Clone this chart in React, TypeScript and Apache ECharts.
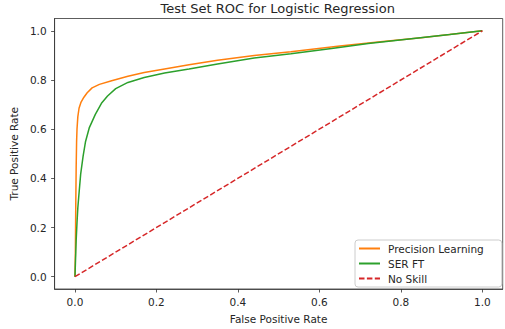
import React, { useEffect, useRef } from "react";
import * as echarts from "echarts";

const title = "Test Set ROC for Logistic Regression";
const xName = "False Positive Rate";
const yName = "True Positive Rate";
const tickValues = [0, 0.2, 0.4, 0.6, 0.8, 1.0];

const precisionFpr = [0, 0.001, 0.002, 0.003, 0.004, 0.005, 0.007, 0.01, 0.015, 0.022, 0.03, 0.042, 0.06, 0.09, 0.13, 0.17, 0.22, 0.28, 0.35, 0.44, 0.53, 0.65, 0.75, 0.85, 0.93, 1];
const precisionTpr = [0, 0.1, 0.3, 0.45, 0.55, 0.6, 0.65, 0.685, 0.71, 0.73, 0.748, 0.768, 0.782, 0.797, 0.815, 0.83, 0.845, 0.862, 0.88, 0.9, 0.915, 0.938, 0.955, 0.972, 0.987, 1];

const serFpr = [0, 0.002, 0.003, 0.005, 0.007, 0.009, 0.014, 0.02, 0.026, 0.035, 0.05, 0.065, 0.08, 0.1, 0.13, 0.17, 0.22, 0.28, 0.35, 0.44, 0.53, 0.63, 0.72, 0.82, 0.92, 1];
const serTpr = [0, 0.1, 0.15, 0.22, 0.28, 0.32, 0.417, 0.49, 0.55, 0.605, 0.66, 0.705, 0.735, 0.765, 0.79, 0.81, 0.828, 0.845, 0.865, 0.889, 0.907, 0.928, 0.948, 0.967, 0.985, 1];

const noSkillFpr = [0, 1];
const noSkillTpr = [0, 1];

const zip = (a: number[], b: number[]) => a.map((v, i) => [v, b[i]]);

const FONT = "DejaVu Sans";
const TXT = "#262626";

export default function App() {
  const ref = useRef<HTMLDivElement>(null);
  useEffect(() => {
    if (!ref.current) return;
    const chart = echarts.init(ref.current, undefined, { renderer: "svg" });
    const axisCommon = {
      type: "value" as const,
      min: -0.05,
      max: 1.05,
      splitLine: { show: false },
      axisLine: { show: true, onZero: false, lineStyle: { color: "#333", width: 0.8 } },
      axisTick: { show: true, length: 3.5, customValues: tickValues, lineStyle: { color: "#333", width: 0.8 } },
      nameTextStyle: { fontFamily: FONT, fontSize: 10.5, color: TXT },
    };
    chart.setOption({
      animation: false,
      backgroundColor: "#fff",
      title: {
        text: title,
        left: 277.7,
        textAlign: "center",
        top: 1.5,
        padding: 0,
        textStyle: { fontFamily: FONT, fontSize: 13, fontWeight: "normal", color: TXT },
      },
      grid: {
        left: 52.7,
        right: 2.3,
        top: 18.5,
        bottom: 35,
        show: true,
        borderColor: "#333",
        borderWidth: 0.8,
        backgroundColor: "transparent",
      },
      legend: {
        left: 355,
        top: 240,
        orient: "vertical",
        itemWidth: 21,
        itemHeight: 12,
        itemGap: 4,
        padding: [3, 18, 3, 3],
        backgroundColor: "#fff",
        borderColor: "#ccc",
        borderWidth: 1,
        borderRadius: 3,
        itemStyle: { opacity: 0 },
        textStyle: { fontFamily: FONT, fontSize: 10.5, color: TXT, padding: [0, 0, 0, 3] },
        data: ["Precision Learning", "SER FT", "No Skill"],
      },
      xAxis: {
        ...axisCommon,
        name: xName,
        nameLocation: "middle",
        nameGap: 24,
        axisLabel: {
          customValues: tickValues,
          margin: 7,
          fontFamily: FONT,
          fontSize: 10.5,
          color: TXT,
          formatter: (v: number) => v.toFixed(1),
        },
      },
      yAxis: {
        ...axisCommon,
        name: yName,
        nameLocation: "middle",
        nameGap: 26,
        axisLabel: {
          customValues: tickValues,
          margin: 8,
          fontFamily: FONT,
          fontSize: 10.5,
          color: TXT,
          formatter: (v: number) => v.toFixed(1),
        },
      },
      series: [
        {
          name: "Precision Learning",
          type: "line",
          data: zip(precisionFpr, precisionTpr),
          showSymbol: false,
          symbol: "none",
          lineStyle: { color: "#ff7f0e", width: 1.5 },
          itemStyle: { color: "#ff7f0e" },
        },
        {
          name: "SER FT",
          type: "line",
          data: zip(serFpr, serTpr),
          showSymbol: false,
          symbol: "none",
          lineStyle: { color: "#2ca02c", width: 1.5 },
          itemStyle: { color: "#2ca02c" },
        },
        {
          name: "No Skill",
          type: "line",
          data: zip(noSkillFpr, noSkillTpr),
          showSymbol: false,
          symbol: "none",
          lineStyle: { color: "#d62728", width: 1.5, type: [5.5, 2.4] },
          itemStyle: { color: "#d62728" },
        },
      ],
    });
    return () => chart.dispose();
  }, []);
  return <div ref={ref} style={{ width: 505, height: 329, position: "absolute", left: 0, top: 0 }} />;
}
